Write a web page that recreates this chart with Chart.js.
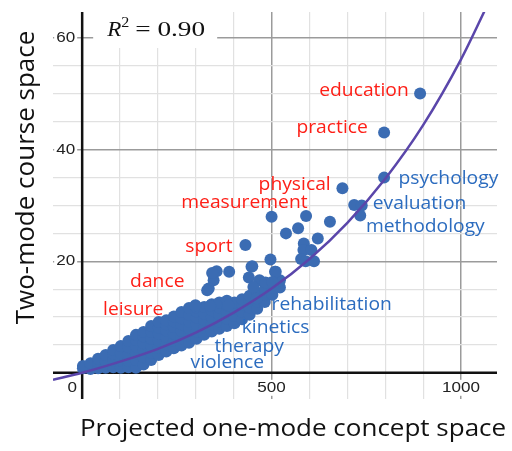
<!DOCTYPE html>
<html>
<head>
<meta charset="utf-8">
<script src="https://cdn.jsdelivr.net/npm/chart.js@4/dist/chart.umd.min.js"></script>
<style>
  html, body { margin: 0; padding: 0; background: #fff; }
  canvas { display: block; }
</style>
</head>
<body>
<canvas id="chart" width="512" height="451"></canvas>
<script>
// dense band of terms, one column per x value: [x, [y, y, ...]]
const bandColumns = [
  [2,   [0.8, 1.2]],
  [22,  [0.7, 1.7]],
  [42,  [0.8, 1.9, 2.5]],
  [62,  [0.9, 2.1, 3.2]],
  [82,  [1.0, 2.2, 3.4, 4.1]],
  [102, [0.9, 2.2, 3.5, 4.8]],
  [122, [1.0, 2.1, 3.3, 4.6, 5.7]],
  [142, [0.9, 2.3, 3.5, 4.7, 5.9, 6.8]],
  [162, [1.5, 2.8, 4.1, 5.3, 6.5, 7.3]],
  [182, [2.3, 3.6, 4.9, 6.1, 7.3, 8.4]],
  [202, [3.2, 4.5, 5.8, 7.0, 8.1, 9.1]],
  [222, [3.8, 5.1, 6.4, 7.6, 8.7, 9.4]],
  [242, [4.4, 5.7, 7.0, 8.2, 9.2, 10.1]],
  [262, [4.9, 6.2, 7.5, 8.7, 9.8, 10.9]],
  [282, [5.4, 6.7, 8.0, 9.2, 10.4, 11.6]],
  [302, [6.1, 7.4, 8.7, 9.9, 11.0, 11.7]],
  [322, [6.8, 8.1, 9.4, 10.6, 11.8]],
  [342, [7.4, 8.7, 10.0, 11.2, 12.3]],
  [362, [7.9, 9.2, 10.5, 11.7, 12.6]],
  [382, [8.4, 9.7, 11.0, 12.1, 12.9]],
  [402, [8.9, 10.2, 11.5, 12.6]],
  [422, [9.6, 10.9, 12.2, 13.2]],
  [442, [10.4, 11.7, 12.9, 13.8]],
  [462, [11.5, 12.8, 14.0]],
  [482, [12.7, 14.0, 15.0]],
  [502, [14.0, 15.2, 16.0]],
  [522, [15.3, 16.6]]
];

// sparser terms above the band and along the upper curve
const sparsePoints = [
  [892, 50.1], [797, 43.1], [797, 35.0], [687, 33.1], [718, 30.1], [738, 30.0], [734, 28.2],
  [500, 28.0], [591, 28.1], [654, 27.1], [570, 25.9], [538, 25.0], [622, 24.1], [431, 22.9],
  [585, 23.2], [584, 22.0], [605, 22.0], [578, 20.4], [590, 20.0], [612, 20.0], [497, 20.3],
  [447, 19.0], [509, 18.1], [440, 17.1], [388, 18.1], [355, 18.2], [347, 16.6], [334, 15.1],
  [343, 17.9], [330, 14.8], [299, 12.1], [338, 12.0], [386, 12.1], [449, 19.1], [468, 16.6],
  [511, 18.1], [484, 16.2], [452, 15.4], [502, 16.3], [460, 13.3]
];

// fitted curve
const fitX = [-77, 0, 100, 200, 300, 400, 500, 600, 700, 800, 900, 1000, 1070];
const fitY = [-1.25, 0, 2.0, 4.3, 7.2, 10.8, 15.1, 20.4, 26.9, 34.8, 44.4, 56.2, 66.0];

const xTickLabels = [500, 1000];
const yTickLabels = [20, 40, 60];
const rSquared = '0.90';

const RED = '#fd1f17';
const BLUE = '#2c6cbf';
const DOT = '#3b6cb3';

// word labels: text, anchor in data units, colour, alignment
const wordLabels = [
  { text: 'education',      x: 862, y: 50.5, color: RED,  align: 'right' },
  { text: 'practice',       x: 754, y: 43.9, color: RED,  align: 'right' },
  { text: 'physical',       x: 656, y: 33.7, color: RED,  align: 'right' },
  { text: 'measurement',    x: 595, y: 30.4, color: RED,  align: 'right' },
  { text: 'sport',          x: 397, y: 22.6, color: RED,  align: 'right' },
  { text: 'dance',          x: 270, y: 16.3, color: RED,  align: 'right' },
  { text: 'leisure',        x: 214, y: 11.2, color: RED,  align: 'right' },
  { text: 'psychology',     x: 835, y: 34.7, color: BLUE, align: 'left' },
  { text: 'evaluation',     x: 767, y: 30.3, color: BLUE, align: 'left' },
  { text: 'methodology',    x: 749, y: 26.2, color: BLUE, align: 'left' },
  { text: 'rehabilitation', x: 500, y: 12.1, color: BLUE, align: 'left' },
  { text: 'kinetics',       x: 421, y: 8.0,  color: BLUE, align: 'left' },
  { text: 'therapy',        x: 349, y: 4.7,  color: BLUE, align: 'left' },
  { text: 'violence',       x: 286, y: 1.7,  color: BLUE, align: 'left' }
];

const points = [];
bandColumns.forEach(([x, ys]) => ys.forEach(y => points.push({ x, y })));
sparsePoints.forEach(([x, y]) => points.push({ x, y }));

function drawText(ctx, text, x, y, o) {
  ctx.save();
  ctx.font = o.font;
  ctx.textBaseline = o.baseline || 'middle';
  ctx.textAlign = 'left';
  const sx = o.sx || 1;
  const w = ctx.measureText(text).width * sx;
  const left = o.align === 'right' ? x - w : o.align === 'center' ? x - w / 2 : x;
  if (o.bg) {
    ctx.fillStyle = o.bg;
    ctx.fillRect(left - 2, y - 8, w + 4, 16);
  }
  ctx.translate(left, y);
  ctx.scale(sx, 1);
  ctx.fillStyle = o.color || '#111';
  ctx.fillText(text, 0, 0);
  ctx.restore();
  return w;
}

const overlay = {
  id: 'overlay',
  beforeDatasetsDraw(chart) {
    const { ctx, chartArea: a, scales: { x, y } } = chart;
    const x0 = x.getPixelForValue(0);
    const y0 = y.getPixelForValue(0);

    // box behind R²
    ctx.fillStyle = '#fff';
    ctx.fillRect(x0 + 11, a.top, 124, 36);

    // axis lines through the origin
    ctx.save();
    ctx.strokeStyle = '#111';
    ctx.lineWidth = 2.5;
    ctx.beginPath();
    ctx.moveTo(x0, a.top);
    ctx.lineTo(x0, a.bottom);
    ctx.moveTo(a.left, y0);
    ctx.lineTo(a.right, y0);
    ctx.stroke();
    ctx.restore();

    const tickFont = '14px "Liberation Sans", Arial, sans-serif';
    yTickLabels.forEach(v => {
      drawText(ctx, String(v), x0 - 7, y.getPixelForValue(v), { font: tickFont, align: 'right', sx: 1.22, color: '#222', bg: '#fff' });
    });
    xTickLabels.forEach(v => {
      drawText(ctx, String(v), x.getPixelForValue(v), y0 + 15, { font: tickFont, align: 'center', sx: 1.22, color: '#222', bg: '#fff' });
    });
    drawText(ctx, '0', x0 - 10, y0 + 15, { font: tickFont, align: 'center', sx: 1.22, color: '#222' });

    // R² annotation
    const serif = '"Liberation Serif", "DejaVu Serif", serif';
    const ry = a.top + 18;
    drawText(ctx, 'R', x0 + 25, ry, { font: 'italic 21px ' + serif, sx: 1.1 });
    drawText(ctx, '2', x0 + 39, ry - 7, { font: '14px ' + serif, sx: 1.15 });
    drawText(ctx, '= ' + rSquared, x0 + 53, ry, { font: '21px ' + serif, sx: 1.3 });
  },
  afterDatasetsDraw(chart) {
    const { ctx, chartArea: a, scales: { x, y } } = chart;
    const labelFont = '18px "Open Sans", sans-serif';
    wordLabels.forEach(l => {
      drawText(ctx, l.text, x.getPixelForValue(l.x), y.getPixelForValue(l.y), { font: labelFont, align: l.align, sx: 1.07, color: l.color });
    });

    // axis titles
    drawText(ctx, 'Projected one-mode concept space', (a.left + a.right) / 2 + 18, a.bottom + 37,
      { font: '23px "Open Sans", sans-serif', align: 'center', baseline: 'alphabetic', sx: 1.13, color: '#111' });
    ctx.save();
    ctx.translate(34, (a.top + a.bottom) / 2 - 28);
    ctx.rotate(-Math.PI / 2);
    ctx.font = '26px "Open Sans", sans-serif';
    ctx.textAlign = 'center';
    ctx.textBaseline = 'alphabetic';
    ctx.fillStyle = '#111';
    ctx.fillText('Two-mode course space', 0, 0);
    ctx.restore();
  }
};

const gridColor = (step) => ctx => (ctx.tick && ctx.tick.value % step === 0 ? '#9b9b9b' : '#e1e1e1');
const gridWidth = (step) => ctx => (ctx.tick && ctx.tick.value % step === 0 ? 1.5 : 1.2);

new Chart(document.getElementById('chart'), {
  type: 'scatter',
  data: {
    datasets: [
      {
        type: 'line',
        data: fitX.map((v, i) => ({ x: v, y: fitY[i] })),
        borderColor: '#5a46aa',
        borderWidth: 2.5,
        pointRadius: 0,
        cubicInterpolationMode: 'monotone',
        fill: false
      },
      {
        data: points,
        pointRadius: 6,
        backgroundColor: DOT,
        borderWidth: 0
      }
    ]
  },
  options: {
    responsive: false,
    animation: false,
    events: [],
    layout: { padding: { left: 53, right: 15, top: 12, bottom: 52 } },
    plugins: { legend: { display: false }, tooltip: { enabled: false } },
    scales: {
      x: {
        type: 'linear',
        min: -77,
        max: 1095,
        border: { display: false },
        ticks: { display: false, stepSize: 100, includeBounds: false },
        grid: { drawTicks: false, color: gridColor(500), lineWidth: gridWidth(500) }
      },
      y: {
        min: -4.7,
        max: 64.7,
        border: { display: false },
        ticks: { display: false, stepSize: 5, includeBounds: false },
        grid: { drawTicks: false, color: gridColor(20), lineWidth: gridWidth(20) }
      }
    }
  },
  plugins: [overlay]
});
</script>
</body>
</html>
